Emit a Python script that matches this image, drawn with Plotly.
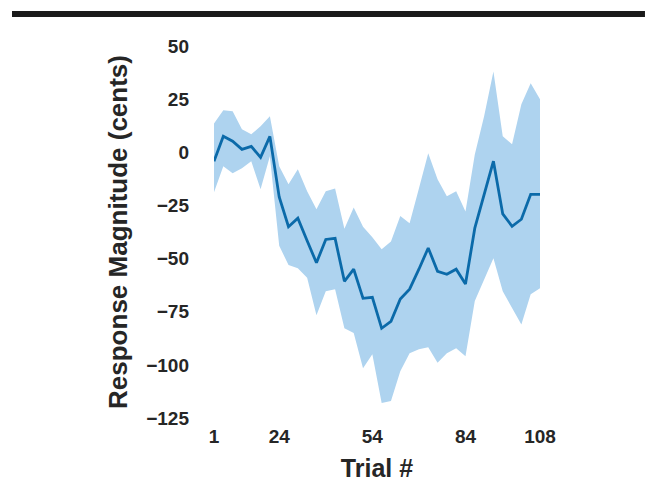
import plotly.graph_objects as go

# Bin index (36 bins of 3 trials)
bins = list(range(1, 37))
mean_vals = [-4.2, 7.5, 5.2, 1.4, 2.8, -2.4, 7.5, -21, -35, -31, -41.6, -52,
             -41, -40.5, -60.7, -55, -68.7, -68.2, -82.8, -79.5, -69, -64.4, -55, -45,
             -56, -57.4, -55, -62, -35.7, -19.8, -4.2, -29, -34.8, -31.5, -19.8, -19.8]
upper_vals = [13.6, 19.8, 19.3, 10.8, 8.5, 12.2, 16.9, -6.6, -15, -8, -18.3, -26.8,
              -18.3, -17, -36, -26, -35, -40, -45.6, -42, -30, -33.4, -17, -0.5,
              -12.7, -20.7, -18.3, -27.8, -1, 17, 38, 7.5, 3.8, 22.6, 32.5, 25]
lower_vals = [-18.8, -6.6, -9.9, -7.5, -4.2, -17.4, -1.9, -44, -53, -54.6, -59, -76.7,
              -65.4, -64.4, -82.8, -85, -101.6, -95, -118, -117, -103, -94.5, -92.7, -91.7,
              -99, -94.5, -92.2, -96, -70, -59.7, -49.9, -65.4, -73.4, -81, -66.8, -64]

x_tickvals = [1, 8, 18, 28, 36]
x_ticktext = ["1", "24", "54", "84", "108"]
y_tickvals = [50, 25, 0, -25, -50, -75, -100, -125]

band_color = "#aed3ef"
line_color = "#0b6aa9"
text_color = "#262626"
font_family = "Liberation Sans, Arial, sans-serif"

fig = go.Figure()
fig.add_trace(go.Scatter(
    x=bins + bins[::-1],
    y=upper_vals + lower_vals[::-1],
    fill="toself", fillcolor=band_color,
    line=dict(width=0), mode="lines", hoverinfo="skip", showlegend=False))
fig.add_trace(go.Scatter(
    x=bins, y=mean_vals, mode="lines",
    line=dict(color=line_color, width=2.8), showlegend=False))

fig.update_layout(
    width=656, height=485,
    margin=dict(l=214, r=116, t=46, b=67),
    paper_bgcolor="white", plot_bgcolor="white",
    font=dict(family=font_family, color=text_color),
    xaxis=dict(
        range=[1, 36], tickvals=x_tickvals, ticktext=x_ticktext,
        showgrid=False, zeroline=False, showline=False, ticks="",
        automargin=False,
        tickfont=dict(size=19, family=font_family, weight="bold", color=text_color),
        ticklabelstandoff=5,
        title=dict(text="<b>Trial #</b>", font=dict(size=25, family=font_family, color=text_color), standoff=13),
    ),
    yaxis=dict(
        range=[-125, 50], tickvals=y_tickvals,
        showgrid=False, zeroline=False, showline=False, ticks="",
        automargin=False,
        tickfont=dict(size=19, family=font_family, weight="bold", color=text_color),
        ticklabelstandoff=24,
        title=dict(text="<b>Response Magnitude (cents)</b>", font=dict(size=26, family=font_family, color=text_color), standoff=11),
    ),
    shapes=[dict(type="rect", xref="paper", yref="paper",
                 x0=-0.6196, x1=1.322, y0=1.078, y1=1.094,
                 fillcolor="#1a1a1a", line=dict(width=0), layer="above")],
)

fig.write_html("out.html")
